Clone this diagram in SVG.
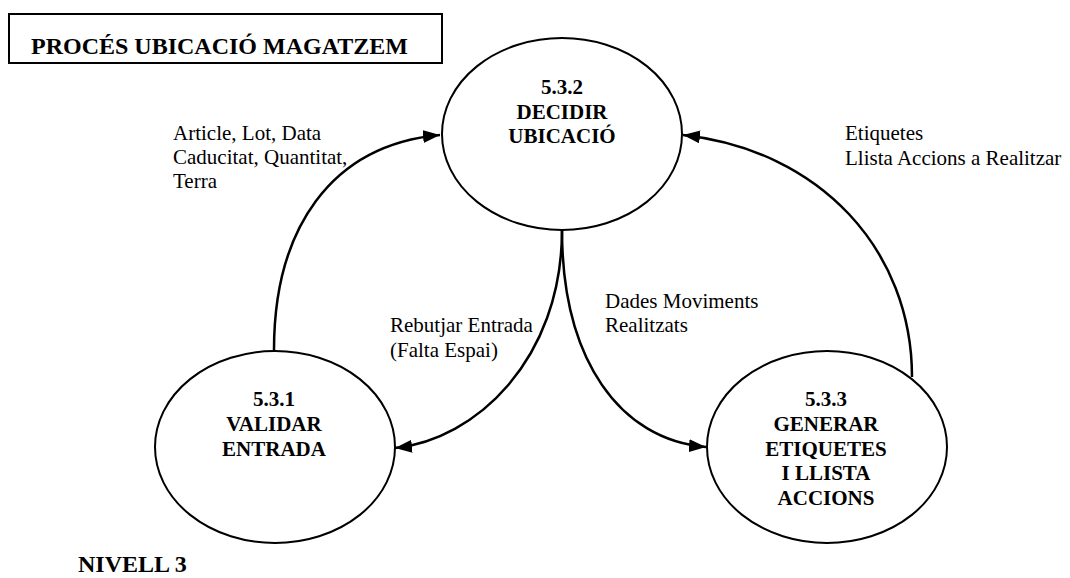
<svg xmlns="http://www.w3.org/2000/svg" width="1070" height="578" viewBox="0 0 1070 578">
  <style>
    .proc { fill: #ffffff; stroke: #000000; stroke-width: 2; }
    .flow { fill: none; stroke: #000000; stroke-width: 2.5; }
    .name { font-family: "Liberation Serif", "Times New Roman", Times, "DejaVu Serif", serif; font-size: 21px; font-weight: bold; fill: #000000; text-anchor: middle; }
    .lbl { font-family: "Liberation Serif", "Times New Roman", Times, "DejaVu Serif", serif; font-size: 21px; fill: #000000; }
    .head { font-family: "Liberation Serif", "Times New Roman", Times, "DejaVu Serif", serif; font-size: 24px; font-weight: bold; fill: #000000; }
  </style>
  <defs>
    <marker id="arrow" viewBox="0 0 17 13" refX="17" refY="6.5" markerWidth="17" markerHeight="13" markerUnits="userSpaceOnUse" orient="auto">
      <path d="M0,0 L17,6.5 L0,13 z" fill="#000000"/>
    </marker>
  </defs>

  <rect width="1070" height="578" fill="#ffffff"/>

  <!-- title box -->
  <g id="title">
    <rect x="9" y="14" width="433" height="49" fill="#ffffff" stroke="#000000" stroke-width="2"/>
    <text class="head" x="31" y="54">PROCÉS UBICACIÓ MAGATZEM</text>
  </g>

  <!-- data flows -->
  <g id="connectors">
    <path class="flow" d="M274,350 C274,230 330,145 440,135" marker-end="url(#arrow)"/>
    <path class="flow" d="M562,230 C562,360 475,440 395,448" marker-end="url(#arrow)"/>
    <path class="flow" d="M562,230 C562,360 620,440 706,447" marker-end="url(#arrow)"/>
    <path class="flow" d="M912,377 C912,250 820,150 683,135" marker-end="url(#arrow)"/>
  </g>

  <!-- processes -->
  <g id="p532">
    <ellipse class="proc" cx="562" cy="134" rx="120" ry="96"/>
    <text class="name" x="562" y="94">5.3.2</text>
    <text class="name" x="562" y="119">DECIDIR</text>
    <text class="name" x="562" y="143">UBICACIÓ</text>
  </g>
  <g id="p531">
    <ellipse class="proc" cx="275" cy="447" rx="120" ry="96"/>
    <text class="name" x="274" y="406">5.3.1</text>
    <text class="name" x="274" y="431">VALIDAR</text>
    <text class="name" x="274" y="456">ENTRADA</text>
  </g>
  <g id="p533">
    <ellipse class="proc" cx="827" cy="447" rx="120" ry="96"/>
    <text class="name" x="826" y="406">5.3.3</text>
    <text class="name" x="826" y="431">GENERAR</text>
    <text class="name" x="826" y="456">ETIQUETES</text>
    <text class="name" x="826" y="480">I LLISTA</text>
    <text class="name" x="826" y="505">ACCIONS</text>
  </g>

  <!-- flow labels -->
  <g id="labels">
    <text class="lbl" x="173" y="140">Article, Lot, Data</text>
    <text class="lbl" x="173" y="164">Caducitat, Quantitat,</text>
    <text class="lbl" x="173" y="188">Terra</text>
    <text class="lbl" x="845" y="140">Etiquetes</text>
    <text class="lbl" x="845" y="165">Llista Accions a Realitzar</text>
    <text class="lbl" x="605" y="308">Dades Moviments</text>
    <text class="lbl" x="605" y="332">Realitzats</text>
    <text class="lbl" x="390" y="332">Rebutjar Entrada</text>
    <text class="lbl" x="390" y="357">(Falta Espai)</text>
  </g>

  <g id="level">
    <text class="head" x="78" y="572">NIVELL 3</text>
  </g>
</svg>
